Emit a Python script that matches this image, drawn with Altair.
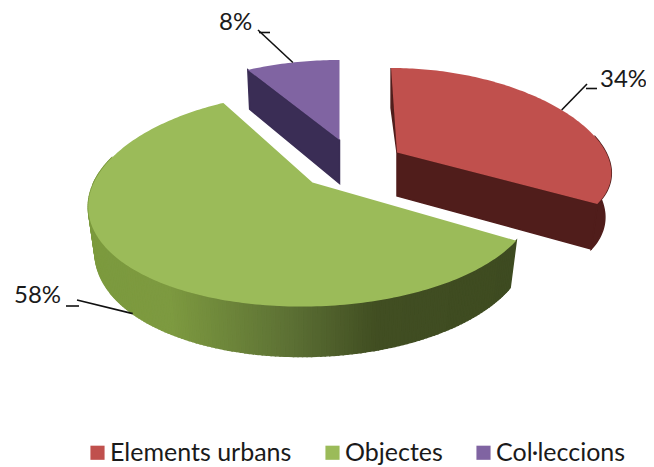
import numpy as np
import altair as alt

# ---- chart values ----
names = ["Elements urbans", "Objectes", "Col·leccions"]
shares = [34, 58, 8]
labels = ["34%", "58%", "8%"]
colors = ["#C0504D", "#9BBB59", "#8064A2"]

# ---- layout / style ----
W, H = 638, 459
OFF = 8
FONT = "Lato"
slices = {
    "Elements urbans": dict(c=(397, 152.5), A=209, B=91.7, px=0.192, py=0.085, shear=0.07, ysh=0.0,
                            dz=43.5, sx=0.97, sy=1.03, dark="#501D1B"),
    "Objectes": dict(c=(312.5, 182.5), A=220, B=104.9, px=0.18, py=0.154, shear=-0.03, ysh=-0.015,
                     dz=44.4, sx=0.97, sy=1.045, dark="#3F4C22"),
    "Col·leccions": dict(c=(339.5, 140), A=222, B=80, px=0.19, py=0.0, shear=0.0, ysh=0.0,
                         dz=43.5, sx=0.98, sy=1.06, dark="#3A2D55"),
}
side_x = [88, 170, 290, 375, 520]
side_rgb = [(124, 154, 62), (125, 154, 64), (92, 112, 52), (65, 78, 34), (62, 75, 33)]

fracs = np.array(shares) / sum(shares)
ends = np.cumsum(fracs) * 360
starts = ends - fracs * 360


def proj(name, deg, base=False):
    s = slices[name]
    t = np.radians(deg)
    x0 = s["A"] * np.sin(t) / (1 + s["px"] * np.cos(t))
    y0 = -s["B"] * np.cos(t) / (1 + s["py"] * np.cos(t))
    x = x0 + s["shear"] * y0
    y = y0 + s["ysh"] * x0
    if base:
        return (s["c"][0] + s["sx"] * x - OFF, s["c"][1] + s["dz"] + s["sy"] * y - OFF)
    return (s["c"][0] + x - OFF, s["c"][1] + y - OFF)


def apex(name, base=False):
    s = slices[name]
    return (s["c"][0] - OFF, s["c"][1] + (s["dz"] if base else 0) - OFF)


def poly(pts, fill, name=None):
    ring = [[float(a), float(b)] for a, b in pts]
    ring.append(ring[0])
    return {"type": "Feature", "geometry": {"type": "Polygon", "coordinates": [ring]},
            "properties": {"fill": fill, "name": name}}


def line(pts):
    return {"type": "Feature",
            "geometry": {"type": "LineString", "coordinates": [[float(a), float(b)] for a, b in pts]},
            "properties": {}}


def hexcol(rgb):
    return "#%02x%02x%02x" % tuple(int(round(v)) for v in rgb)


tops, sides = [], []
for name, col, a0, a1 in zip(names, colors, starts, ends):
    arc = np.linspace(a0, a1, int(a1 - a0) + 2)
    tops.append(poly([apex(name)] + [proj(name, d) for d in arc], col, name))

# red: back sliver, outer wall, cut face
n = names[0]
p0 = proj(n, starts[0])
sides.append(poly([p0, apex(n), (p0[0], p0[1] + 40)], slices[n]["dark"]))
wall = np.linspace(80, ends[0], 30)
sides.append(poly([proj(n, d) for d in wall] + [proj(n, d, True) for d in wall[::-1]], slices[n]["dark"]))
sides.append(poly([apex(n), proj(n, ends[0]), proj(n, ends[0], True), apex(n, True)], slices[n]["dark"]))
# purple: cut face
n = names[2]
sides.append(poly([apex(n), proj(n, starts[2]), proj(n, starts[2], True), apex(n, True)], slices[n]["dark"]))
# green: shaded outer wall
n = names[1]
angs = np.append(np.arange(starts[1], 286, 1.0), 286)
for d0, d1 in zip(angs[:-1], angs[1:]):
    xm = (proj(n, d0)[0] + proj(n, d1, True)[0]) / 2 + OFF
    rgb = [np.interp(xm, side_x, [c[i] for c in side_rgb]) for i in range(3)]
    sides.append(poly([proj(n, d0), proj(n, d1), proj(n, d1, True), proj(n, d0, True)], hexcol(rgb)))

# leader lines start on the slice edge at each slice's mid angle
mid = (starts + ends) / 2
leaders = [
    line([proj(names[0], mid[0]), (587 - OFF, 84 - OFF)]),
    line([(586 - OFF, 88.5 - OFF), (597 - OFF, 88.5 - OFF)]),
    line([proj(names[1], mid[1], True), (77 - OFF, 300 - OFF)]),
    line([(66 - OFF, 306 - OFF), (79 - OFF, 306 - OFF)]),
    line([proj(names[2], mid[2]), (258 - OFF, 30 - OFF)]),
    line([(259 - OFF, 32.5 - OFF), (270 - OFF, 32.5 - OFF)]),
]

label_rows = [
    {"t": labels[0], "x": 600 - OFF, "y": 87 - OFF},
    {"t": labels[1], "x": 14 - OFF, "y": 303 - OFF},
    {"t": labels[2], "x": 219 - OFF, "y": 30 - OFF},
]

pr = dict(type="identity", scale=1, translate=[0, 0])

side_layer = alt.Chart(alt.Data(values=sides)).mark_geoshape(strokeWidth=1.5).encode(
    fill=alt.Fill("properties.fill:N", scale=None),
    stroke=alt.Stroke("properties.fill:N", scale=None),
).project(**pr)

top_layer = alt.Chart(alt.Data(values=tops)).mark_geoshape(strokeWidth=0).encode(
    color=alt.Color(
        "properties.name:N",
        scale=alt.Scale(domain=names, range=colors),
        sort=names,
        legend=alt.Legend(
            title=None, orient="none", legendX=85 - OFF, legendY=440 - OFF, padding=0,
            direction="horizontal", columns=3, symbolType="square", symbolSize=200,
            symbolStrokeWidth=0, labelFont=FONT, labelFontSize=25, labelColor="#1a1a1a",
            labelOffset=0, columnPadding=28, labelLimit=400, symbolOpacity=1,
        ),
    ),
).project(**pr)

leader_layer = alt.Chart(alt.Data(values=leaders)).mark_geoshape(
    filled=False, stroke="#111111", strokeWidth=1.6
).project(**pr)

text_layer = alt.Chart(alt.Data(values=label_rows)).mark_text(
    font=FONT, fontSize=24, color="#1a1a1a", align="left", baseline="alphabetic"
).encode(
    x=alt.X("x:Q", scale=alt.Scale(domain=[0, W], range=[0, W]), axis=None),
    y=alt.Y("y:Q", scale=alt.Scale(domain=[0, H], range=[0, H]), axis=None),
    text="t:N",
)

chart = alt.layer(side_layer, top_layer, leader_layer, text_layer).properties(
    width=W, height=H, padding=0,
    autosize=alt.AutoSizeParams(type="none"),
    background="white",
).configure_view(stroke=None)

chart.save("out.html", embed_options={"renderer": "svg", "actions": False})
